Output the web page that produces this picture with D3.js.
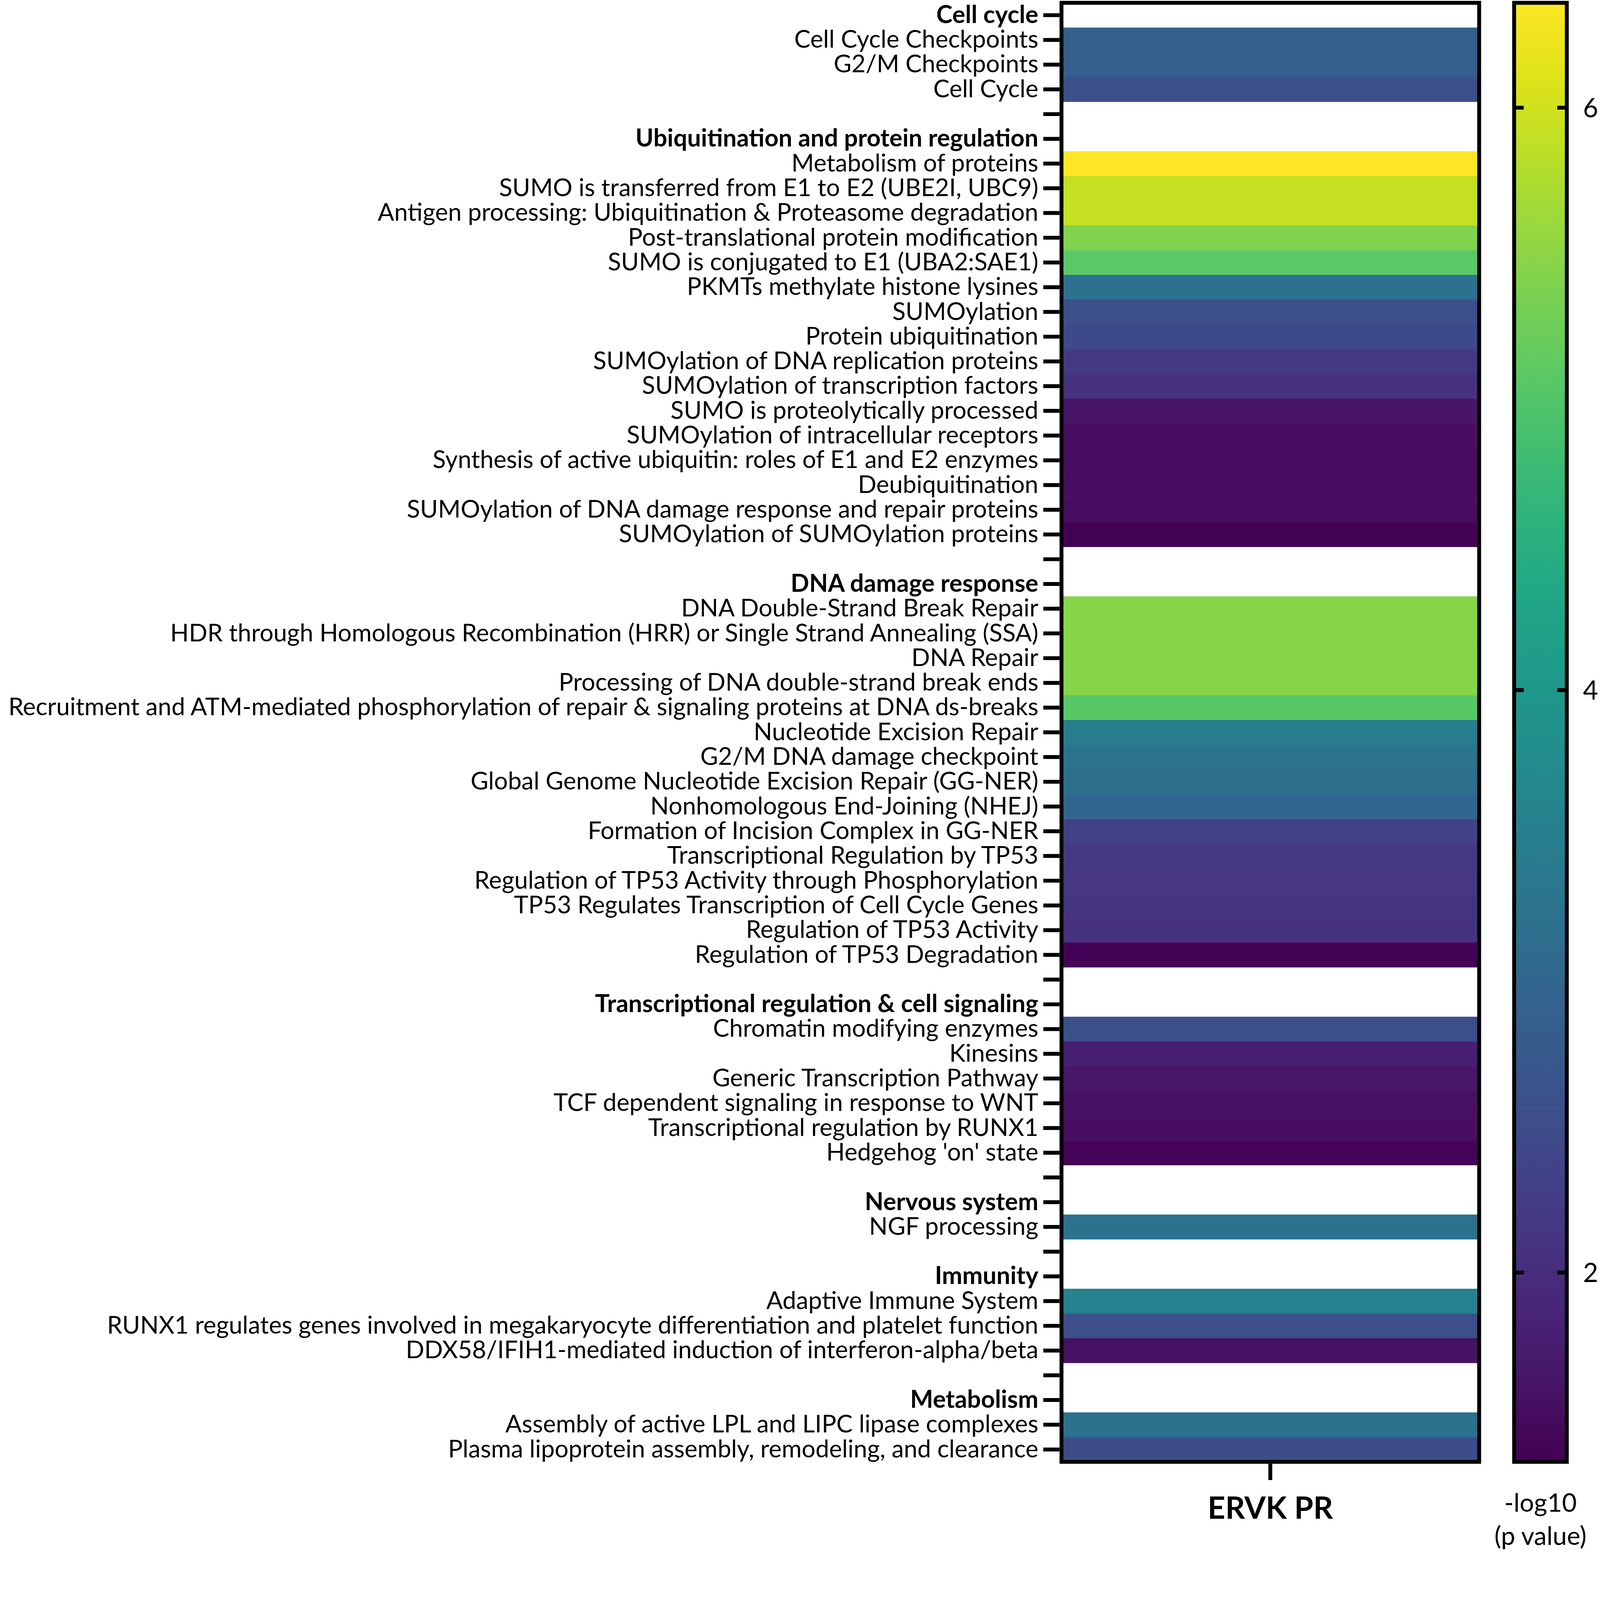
<!DOCTYPE html>
<html>
<head>
<meta charset="utf-8">
<script src="https://cdn.jsdelivr.net/npm/d3@7"></script>
<style>
  html, body { margin: 0; padding: 0; background: #fff; overflow: hidden; }
  svg { display: block; }
  text { font-family: Lato, "Open Sans", sans-serif; fill: #000; }
</style>
</head>
<body>
<div id="chart"></div>
<script>
//----------------------------------------------------------------
// data : one row per pathway, empty string = spacer row
//----------------------------------------------------------------
var categories = [
  "Cell cycle",
  "Cell Cycle Checkpoints",
  "G2/M Checkpoints",
  "Cell Cycle",
  "",
  "Ubiquitination and protein regulation",
  "Metabolism of proteins",
  "SUMO is transferred from E1 to E2 (UBE2I, UBC9)",
  "Antigen processing: Ubiquitination & Proteasome degradation",
  "Post-translational protein modification",
  "SUMO is conjugated to E1 (UBA2:SAE1)",
  "PKMTs methylate histone lysines",
  "SUMOylation",
  "Protein ubiquitination",
  "SUMOylation of DNA replication proteins",
  "SUMOylation of transcription factors",
  "SUMO is proteolytically processed",
  "SUMOylation of intracellular receptors",
  "Synthesis of active ubiquitin: roles of E1 and E2 enzymes",
  "Deubiquitination",
  "SUMOylation of DNA damage response and repair proteins",
  "SUMOylation of SUMOylation proteins",
  "",
  "DNA damage response",
  "DNA Double-Strand Break Repair",
  "HDR through Homologous Recombination (HRR) or Single Strand Annealing (SSA)",
  "DNA Repair",
  "Processing of DNA double-strand break ends",
  "Recruitment and ATM-mediated phosphorylation of repair & signaling proteins at DNA ds-breaks",
  "Nucleotide Excision Repair",
  "G2/M DNA damage checkpoint",
  "Global Genome Nucleotide Excision Repair (GG-NER)",
  "Nonhomologous End-Joining (NHEJ)",
  "Formation of Incision Complex in GG-NER",
  "Transcriptional Regulation by TP53",
  "Regulation of TP53 Activity through Phosphorylation",
  "TP53 Regulates Transcription of Cell Cycle Genes",
  "Regulation of TP53 Activity",
  "Regulation of TP53 Degradation",
  "",
  "Transcriptional regulation & cell signaling",
  "Chromatin modifying enzymes",
  "Kinesins",
  "Generic Transcription Pathway",
  "TCF dependent signaling in response to WNT",
  "Transcriptional regulation by RUNX1",
  "Hedgehog 'on' state",
  "",
  "Nervous system",
  "NGF processing",
  "",
  "Immunity",
  "Adaptive Immune System",
  "RUNX1 regulates genes involved in megakaryocyte differentiation and platelet function",
  "DDX58/IFIH1-mediated induction of interferon-alpha/beta",
  "",
  "Metabolism",
  "Assembly of active LPL and LIPC lipase complexes",
  "Plasma lipoprotein assembly, remodeling, and clearance"
];

// group titles (bold)
var groupes = [
  "Cell cycle",
  "Ubiquitination and protein regulation",
  "DNA damage response",
  "Transcriptional regulation & cell signaling",
  "Nervous system",
  "Immunity",
  "Metabolism"
];

// -log10(p value) for ERVK PR, null = no cell
var valeurs = [
  null, 2.86, 2.84, 2.55,
  null, null, 6.36, 5.92, 5.92, 5.42, 5.08, 3.22, 2.55, 2.45, 2.20, 2.07,
  1.62, 1.53, 1.52, 1.52, 1.51, 1.38,
  null, null, 5.45, 5.45, 5.45, 5.45, 5.06, 3.45, 3.25, 3.18, 3.00,
  2.32, 2.20, 2.15, 2.13, 2.08, 1.37,
  null, null, 2.55, 1.78, 1.65, 1.55, 1.53, 1.40,
  null, null, 3.22,
  null, null, 3.55, 2.55, 1.58,
  null, null, 3.22, 2.52
];

var colonnes = ["ERVK PR"];
var echelleMin = 1.35, echelleMax = 6.36;
var ticksEchelle = [2, 4, 6];

//----------------------------------------------------------------
// svg (drawn in a 4528 x 4395 frame, scaled to the window)
//----------------------------------------------------------------
var largeur = 4528, hauteur = 4395;
var svg = d3.select("#chart")
  .append("svg")
  .attr("viewBox", "0 0 " + largeur + " " + hauteur)
  .attr("preserveAspectRatio", "xMinYMin meet")
  .attr("width", window.innerWidth || largeur)
  .attr("height", window.innerHeight || hauteur);

var hx0 = 3004, hx1 = 4186, hy0 = 8, hy1 = 4137;
var epaisseur = 11;

var y = d3.scaleBand()
  .domain(d3.range(categories.length))
  .range([hy0, hy1])
  .padding(0);

var x = d3.scaleBand()
  .domain(colonnes)
  .range([hx0, hx1]);

var couleur = d3.scaleSequential(d3.interpolateViridis)
  .domain([echelleMin, echelleMax]);

//----------------------------------------------------------------
// cells
//----------------------------------------------------------------
var cellules = valeurs.map(function(v, i){ return {i: i, v: v}; })
  .filter(function(d){ return d.v !== null; });

svg.append("g")
  .selectAll("rect")
  .data(cellules)
  .enter()
  .append("rect")
  .attr("x", x(colonnes[0]))
  .attr("width", x.bandwidth())
  .attr("y", function(d){ return y(d.i); })
  .attr("height", y.bandwidth() + 0.5)
  .attr("fill", function(d){ return couleur(d.v); });

// frame
svg.append("rect")
  .attr("x", hx0).attr("y", hy0)
  .attr("width", hx1 - hx0).attr("height", hy1 - hy0)
  .attr("fill", "none")
  .attr("stroke", "#000")
  .attr("stroke-width", epaisseur);

//----------------------------------------------------------------
// y axis (row labels)
//----------------------------------------------------------------
var axeY = svg.append("g")
  .attr("transform", "translate(" + (hx0 - epaisseur / 2) + ",0)")
  .call(d3.axisLeft(y)
    .tickSize(46)
    .tickPadding(14)
    .tickFormat(function(i){ return categories[i]; }));
axeY.select(".domain").remove();
axeY.selectAll(".tick line")
  .attr("stroke", "#000")
  .attr("stroke-width", epaisseur);
axeY.selectAll(".tick text")
  .attr("font-size", 69)
  .attr("font-family", "Lato")
  .attr("fill", "#000")
  .attr("font-weight", function(i){ return groupes.indexOf(categories[i]) >= 0 ? "bold" : "normal"; });

//----------------------------------------------------------------
// x axis
//----------------------------------------------------------------
var axeX = svg.append("g")
  .attr("transform", "translate(0," + (hy1 + epaisseur / 2) + ")")
  .call(d3.axisBottom(x).tickSize(46).tickPadding(48));
axeX.select(".domain").remove();
axeX.selectAll(".tick line")
  .attr("stroke", "#000")
  .attr("stroke-width", epaisseur);
axeX.selectAll(".tick text")
  .attr("font-size", 87)
  .attr("font-weight", "bold")
  .attr("font-family", "Lato")
  .attr("fill", "#000");

//----------------------------------------------------------------
// colour scale
//----------------------------------------------------------------
var cx0 = 4285, cx1 = 4434;
var yEchelle = d3.scaleLinear()
  .domain([echelleMin, echelleMax])
  .range([hy1, hy0]);

var degrade = svg.append("defs")
  .append("linearGradient")
  .attr("id", "viridis")
  .attr("x1", 0).attr("y1", 1)
  .attr("x2", 0).attr("y2", 0);
degrade.selectAll("stop")
  .data(d3.range(0, 1.0001, 0.05))
  .enter()
  .append("stop")
  .attr("offset", function(t){ return t; })
  .attr("stop-color", function(t){ return d3.interpolateViridis(t); });

svg.append("rect")
  .attr("x", cx0).attr("y", hy0)
  .attr("width", cx1 - cx0).attr("height", hy1 - hy0)
  .attr("fill", "url(#viridis)")
  .attr("stroke", "#000")
  .attr("stroke-width", epaisseur);

var graduations = svg.append("g");
graduations.selectAll(".gauche")
  .data(ticksEchelle)
  .enter()
  .append("line")
  .attr("x1", cx0).attr("x2", cx0 + 27)
  .attr("y1", function(d){ return yEchelle(d); })
  .attr("y2", function(d){ return yEchelle(d); })
  .attr("stroke", "#000")
  .attr("stroke-width", epaisseur);
graduations.selectAll(".droite")
  .data(ticksEchelle)
  .enter()
  .append("line")
  .attr("x1", cx1 - 27).attr("x2", cx1)
  .attr("y1", function(d){ return yEchelle(d); })
  .attr("y2", function(d){ return yEchelle(d); })
  .attr("stroke", "#000")
  .attr("stroke-width", epaisseur);
graduations.selectAll("text")
  .data(ticksEchelle)
  .enter()
  .append("text")
  .attr("x", cx1 + 46)
  .attr("y", function(d){ return yEchelle(d); })
  .attr("dy", "0.36em")
  .attr("font-size", 74)
  .text(function(d){ return d; });

// legend title
var titre = svg.append("text")
  .attr("text-anchor", "middle")
  .attr("font-size", 72);
titre.append("tspan")
  .attr("x", (cx0 + cx1) / 2).attr("y", 4278)
  .text("-log10");
titre.append("tspan")
  .attr("x", (cx0 + cx1) / 2).attr("y", 4372)
  .text("(p value)");
</script>
</body>
</html>
